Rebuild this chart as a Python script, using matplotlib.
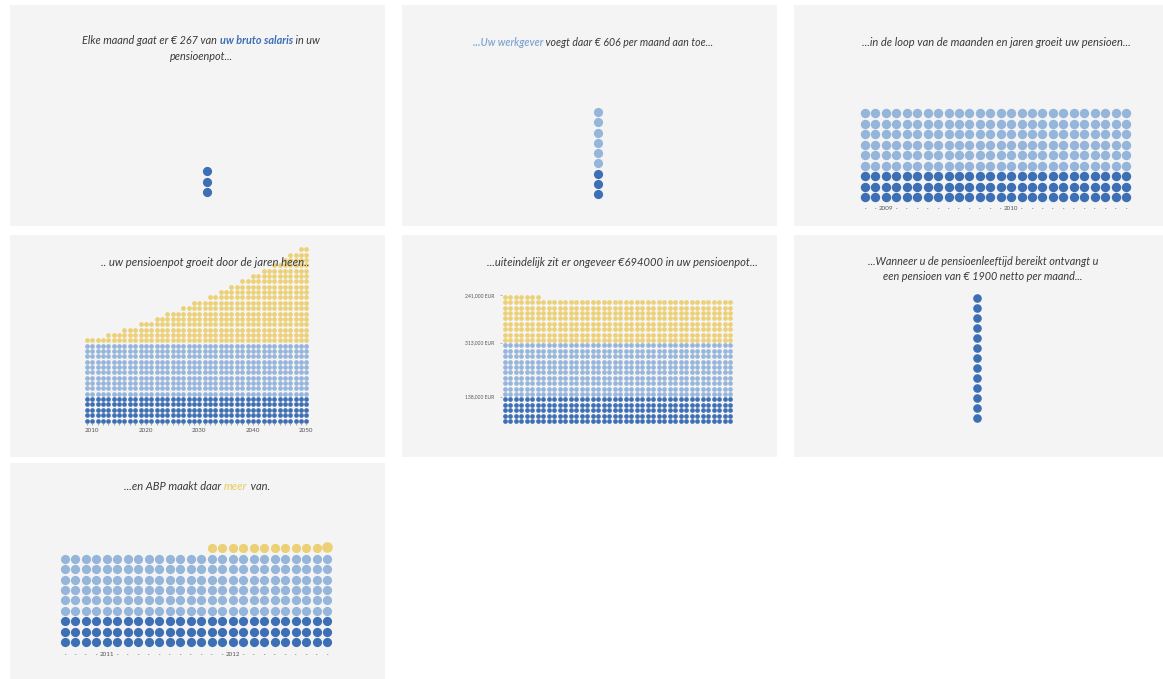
import matplotlib
matplotlib.use("Agg")
import matplotlib.pyplot as plt
from matplotlib.offsetbox import TextArea, HPacker, VPacker, AnnotationBbox

# ------------------------------------------------------------------ data
# panel 1: own contribution (EUR 267 / month)
p1_own = 3
# panel 2: own + employer contribution (EUR 606 / month)
p2_own = 3
p2_employer = 6
# panel 3: months
p3_ticklabels = ["·", "·", "2009", "·", "·", "·", "·", "·", "·", "·", "·", "·", "·",
                 "·", "2010", "·", "·", "·", "·", "·", "·", "·", "·", "·", "·", "·"]
p3_own = [3] * 26
p3_employer = [6] * 26
# panel 4: years, return on investment grows
p4_years = list(range(2009, 2051))
p4_own = [5] * 42
p4_employer = [10] * 42
p4_return = [1, 1, 1, 1, 2, 2, 2, 3, 3, 3, 4, 4, 4, 5, 5, 6, 6, 6, 7, 7, 8,
             8, 8, 9, 9, 10, 10, 11, 11, 12, 12, 13, 13, 14, 14, 15, 15, 16, 17, 17, 18, 18]
p4_labelled = [2010, 2020, 2030, 2040, 2050]
# panel 5: final pot
p5_own = [5] * 42
p5_employer = [10] * 42
p5_return = [9] * 7 + [8] * 35
p5_labels = ["138,000 EUR", "313,000 EUR", "241,000 EUR"]
# panel 6: monthly pension (EUR 1900)
p6_pension = 13
# panel 7: ABP makes more
p7_ticklabels = ["·", "·", "·", "·", "2011", "·", "·", "·", "·", "·", "·", "·", "·",
                 "·", "·", "·", "2012", "·", "·", "·", "·", "·", "·", "·", "·", "·"]
p7_own = [3] * 26
p7_employer = [6] * 26
p7_extra = [0] * 14 + [1] * 12

# ------------------------------------------------------------------ style
W, H, DPI = 1163, 679, 100
DARK = "#3d6fb5"
LIGHT = "#95b5da"
YELLOW = "#ecd075"
PANEL = "#f4f4f4"
TXT = "#3a3a3a"
FONT = "Lato"

fig = plt.figure(figsize=(W / DPI, H / DPI), dpi=DPI, facecolor="white")


def px_axes(x0, y0, x1, y1, z=1):
    return fig.add_axes([x0 / W, 1 - y1 / H, (x1 - x0) / W, (y1 - y0) / H], zorder=z)


def panel(x0, y0, x1, y1):
    ax = px_axes(x0, y0, x1, y1, z=0)
    ax.set_facecolor(PANEL)
    ax.set_xticks([]); ax.set_yticks([])
    for s in ax.spines.values():
        s.set_visible(False)
    return ax


def grid_axes(cx, cy_bottom, sx, sy, ncols, nrows):
    ax = px_axes(cx - sx / 2, cy_bottom - (nrows - 0.5) * sy,
                 cx + (ncols - 0.5) * sx, cy_bottom + sy / 2)
    ax.set_xlim(-0.5, ncols - 0.5)
    ax.set_ylim(-0.5, nrows - 0.5)
    ax.patch.set_visible(False)
    for s in ax.spines.values():
        s.set_visible(False)
    ax.set_xticks([]); ax.set_yticks([])
    return ax


def stacked_dots(ax, segments, colors, d_px):
    s = (d_px * 72 / DPI) ** 2
    base = [0] * len(segments[0])
    for seg, col in zip(segments, colors):
        xs, ys = [], []
        for i, n in enumerate(seg):
            for k in range(n):
                xs.append(i)
                ys.append(base[i] + k)
            base[i] += n
        ax.scatter(xs, ys, s=s, color=col, linewidths=0, clip_on=False)


def title(lines, x, y, size=8.0, sep=2.5):
    rows = []
    for parts in lines:
        kids = []
        for txt, col, wt in parts:
            kids.append(TextArea(txt, textprops=dict(color=col, fontsize=size, style="italic",
                                                     fontweight=wt, family=FONT)))
        rows.append(HPacker(children=kids, align="baseline", pad=0, sep=0))
    box = VPacker(children=rows, align="center", pad=0, sep=sep)
    ab = AnnotationBbox(box, (x, H - y), xycoords="figure pixels", frameon=False,
                        box_alignment=(0.5, 0.5))
    fig.add_artist(ab)


# ------------------------------------------------------------------ panels
panel(10, 5, 385, 226)
panel(402, 5, 777, 226)
panel(794, 5, 1175, 226)
panel(10, 235, 385, 457)
panel(402, 235, 777, 457)
panel(794, 235, 1175, 457)
panel(10, 463, 385, 690)

# panel 1
ax = grid_axes(207, 192, 10.5, 10.5, 1, p1_own)
stacked_dots(ax, [[p1_own]], [DARK], 9.2)
title([[("Elke maand gaat er € 267 van ", TXT, "normal"),
        ("uw bruto salaris", DARK, "bold"), (" in uw", TXT, "normal")],
       [("pensioenpot...", TXT, "normal")]], 201, 48.5, size=7.8, sep=3)

# panel 2
ax = grid_axes(598, 194, 10.25, 10.25, 1, p2_own + p2_employer)
stacked_dots(ax, [[p2_own], [p2_employer]], [DARK, LIGHT], 9.2)
title([[("...Uw werkgever", "#7ea5d3", "semibold"),
        (" voegt daar € 606 per maand aan toe...", TXT, "normal")]], 593, 42, size=7.6)

# panel 3
ax = grid_axes(865, 197, 10.44, 10.5, 26, 9)
stacked_dots(ax, [p3_own, p3_employer], [DARK, LIGHT], 9.4)
ax.set_xticks(range(26))
ax.set_xticklabels(p3_ticklabels, fontsize=4.5, family=FONT, color="#555555")
ax.tick_params(axis="x", length=0, pad=3)
title([[("...in de loop van de maanden en jaren groeit uw pensioen...", TXT, "normal")]],
      996, 42, size=8.0)

# panel 4
ax = grid_axes(87, 420.5, 5.35, 5.35, 42, 33)
stacked_dots(ax, [p4_own, p4_employer, p4_return], [DARK, LIGHT, YELLOW], 4.7)
ax.set_xticks(range(len(p4_years)))
ax.set_xticklabels([str(y) if y in p4_labelled else "" for y in p4_years],
                   fontsize=4.5, family=FONT, color="#555555")
ax.tick_params(axis="x", length=1.2, width=0.8, color="#aaaaaa", pad=2.5)
title([[(".. uw pensioenpot groeit door de jaren heen..", TXT, "normal")]], 205, 262, size=8.2)

# panel 5
ax = grid_axes(505, 421, 5.49, 5.4, 42, 24)
stacked_dots(ax, [p5_own, p5_employer, p5_return], [DARK, LIGHT, YELLOW], 4.7)
ax.set_yticks([p5_own[0] - 0.5, p5_own[0] + p5_employer[0] - 0.5,
               p5_own[0] + p5_employer[0] + max(p5_return) - 0.7])
ax.set_yticklabels(p5_labels, fontsize=3.6, family=FONT, color="#555555")
ax.tick_params(axis="y", length=1.8, width=0.5, color="#999999", pad=4)
title([[("...uiteindelijk zit er ongeveer €694000 in uw pensioenpot...", TXT, "normal")]],
      622, 263, size=8.05)

# panel 6
ax = grid_axes(977, 418, 10, 10, 1, p6_pension)
stacked_dots(ax, [[p6_pension]], [DARK], 8.6)
title([[("...Wanneer u de pensioenleeftijd bereikt ontvangt u", TXT, "normal")],
       [("een pensioen van € 1900 netto per maand...", TXT, "normal")]], 983, 269,
      size=7.85, sep=2.5)

# panel 7
ax = grid_axes(65, 642, 10.48, 10.4, 26, 10)
stacked_dots(ax, [p7_own, p7_employer], [DARK, LIGHT], 9.2)
xs = [i for i, v in enumerate(p7_extra) if v]
ys = [p7_own[i] + p7_employer[i] for i in xs]
ax.scatter(xs[:-1], ys[:-1], s=(9.2 * 0.72) ** 2, color=YELLOW, linewidths=0, clip_on=False)
ax.scatter(xs[-1:], [ys[-1] + 0.15], s=(10.6 * 0.72) ** 2, color=YELLOW, linewidths=0, clip_on=False)
ax.set_xticks(range(26))
ax.set_xticklabels(p7_ticklabels, fontsize=4.5, family=FONT, color="#555555")
ax.tick_params(axis="x", length=0, pad=3.5)
title([[("...en ABP maakt daar ", TXT, "normal"), ("meer", YELLOW, "semibold"),
        (" van.", TXT, "normal")]], 197, 486, size=8.0)

fig.savefig("out.png", dpi=DPI, facecolor="white")
